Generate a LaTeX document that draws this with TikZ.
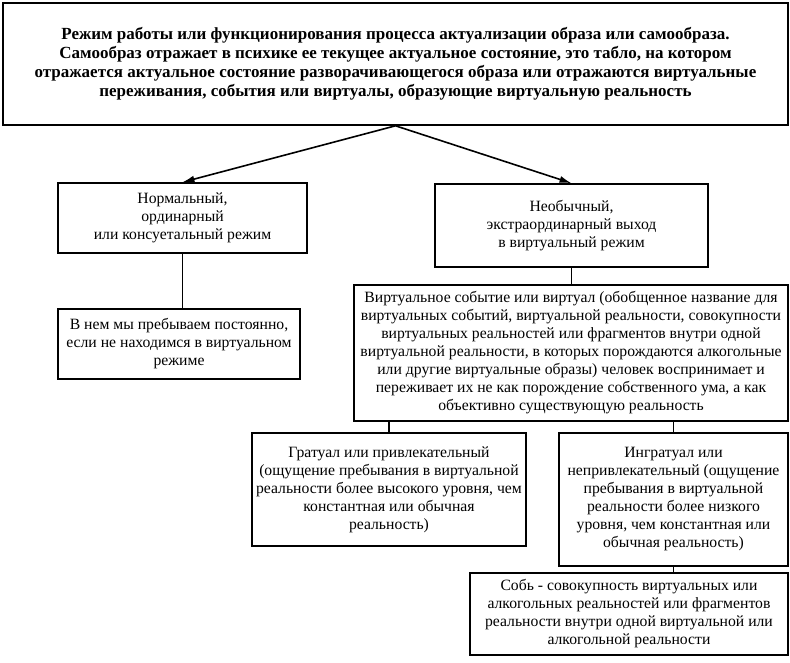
\documentclass[tikz,border=0pt]{standalone}
\usepackage{fontspec}
\setmainfont{Liberation Serif}
\usetikzlibrary{arrows.meta}

\begin{document}
\begin{tikzpicture}[x=1pt,y=-1pt,
  box/.style={draw, line width=1.6pt, align=center, inner sep=0pt,
    font=\fontsize{15.7}{18}\selectfont},
  link/.style={line width=1.6pt},
  arr/.style={line width=1.6pt, -{Latex[length=12pt,width=7pt]}}]

\useasboundingbox (0,0) rectangle (790,663);

% Top box
\node[box, font=\bfseries\fontsize{17}{19}\selectfont,
  minimum width=785pt, minimum height=122pt] (mode) at (395.5,64)
  {Режим работы или функционирования процесса актуализации образа или самообраза.\\
   Самообраз отражает в психике ее текущее актуальное состояние, это табло, на котором\\
   отражается актуальное состояние разворачивающегося образа или отражаются виртуальные\\
   переживания, события или виртуалы, образующие виртуальную реальность};

% Two modes
\node[box, minimum width=249pt, minimum height=70pt] (norm) at (182.5,218)
  {Нормальный,\\ординарный\\или консуетальный режим};
\node[box, minimum width=273pt, minimum height=83pt] (unus) at (571.5,225.5)
  {Необычный,\\экстраординарный выход\\в виртуальный режим};

% Arrows from the top box
\draw[arr] (mode.south) -- (norm.north);
\draw[arr] (mode.south) -- (unus.north);

% Left branch
\node[box, minimum width=242pt, minimum height=70pt] (always) at (179,344)
  {В нем мы пребываем постоянно,\\если не находимся в виртуальном\\режиме};
\draw[link] (norm.south) -- (norm.south |- always.north);

% Right branch
\node[box, minimum width=434pt, minimum height=136pt] (virt) at (571,353)
  {Виртуальное событие или виртуал (обобщенное название для\\
   виртуальных событий, виртуальной реальности, совокупности\\
   виртуальных реальностей или фрагментов внутри одной\\
   виртуальной реальности, в которых порождаются алкогольные\\
   или другие виртуальные образы) человек воспринимает и\\
   переживает их не как порождение собственного ума, а как\\
   объективно существующую реальность};
\draw[link] (unus.south) -- (unus.south |- virt.north);

\node[box, minimum width=274pt, minimum height=113pt] (grat) at (389,489.5)
  {Гратуал или привлекательный\\
   (ощущение пребывания в виртуальной\\
   реальности более высокого уровня, чем\\
   константная или обычная\\
   реальность)};
\node[box, minimum width=229pt, minimum height=133pt] (ingrat) at (673.5,499.5)
  {Ингратуал или\\
   непривлекательный (ощущение\\
   пребывания в виртуальной\\
   реальности более низкого\\
   уровня, чем константная или\\
   обычная реальность)};
\draw[link] (virt.south -| grat.north) -- (grat.north);
\draw[link] (virt.south -| ingrat.north) -- (ingrat.north);

% Bottom box
\node[box, minimum width=318pt, minimum height=82pt] (sob) at (629,614)
  {Собь - совокупность виртуальных или\\
   алкогольных реальностей или фрагментов\\
   реальности внутри одной виртуальной или\\
   алкогольной реальности};
\draw[link] (ingrat.south) -- (ingrat.south |- sob.north);

\end{tikzpicture}
\end{document}
